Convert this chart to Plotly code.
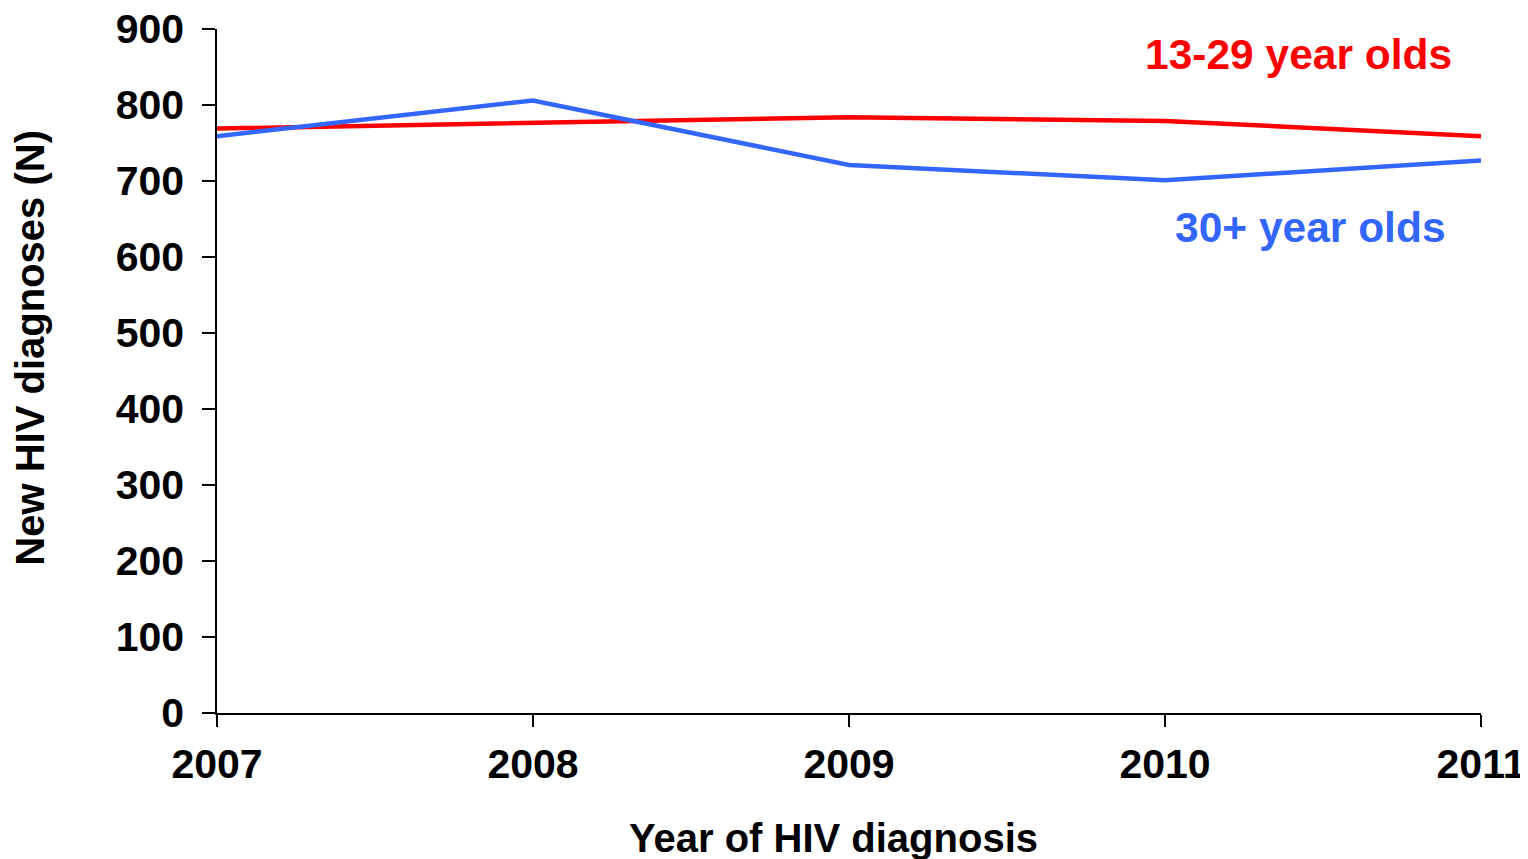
import plotly.graph_objects as go

years = [2007, 2008, 2009, 2010, 2011]
young = [769, 777, 784, 779, 759]
older = [759, 806, 721, 701, 727]
y_ticks = [0, 100, 200, 300, 400, 500, 600, 700, 800, 900]

font = "Liberation Sans, Arial, sans-serif"

fig = go.Figure()
fig.add_trace(go.Scatter(x=years, y=young, mode="lines", name="13-29 year olds",
                         line=dict(color="#FF0000", width=4.5)))
fig.add_trace(go.Scatter(x=years, y=older, mode="lines", name="30+ year olds",
                         line=dict(color="#3366FF", width=4.5)))

fig.add_annotation(x=2010.424, y=866, text="<b>13-29 year olds</b>", showarrow=False,
                   font=dict(family=font, size=42.5, color="#FF0000"))
fig.add_annotation(x=2010.459, y=639, text="<b>30+ year olds</b>", showarrow=False,
                   font=dict(family=font, size=42.5, color="#3366FF"))

# axis titles as annotations (offset from centre as in the reference)
fig.add_annotation(xref="paper", yref="paper", x=0.488, y=-0.183,
                   text="<b>Year of HIV diagnosis</b>", showarrow=False,
                   xanchor="center", yanchor="middle",
                   font=dict(family=font, size=40, color="black"))
fig.add_annotation(xref="paper", yref="paper", x=-0.148, y=0.534,
                   text="<b>New HIV diagnoses (N)</b>", showarrow=False, textangle=-90,
                   xanchor="center", yanchor="middle",
                   font=dict(family=font, size=40, color="black"))

fig.update_layout(
    width=1528, height=859,
    margin=dict(l=209, r=55, t=21, b=154),
    paper_bgcolor="white", plot_bgcolor="white",
    showlegend=False,
    font=dict(family=font, color="black"),
)
fig.update_xaxes(
    range=[2007, 2011], tickvals=years, ticktext=[f"<b>{y}</b>" for y in years],
    tickfont=dict(size=41, family=font), ticks="outside", ticklen=12, tickwidth=1.5,
    tickcolor="black", showline=True, linecolor="black", linewidth=1.5,
    showgrid=False, zeroline=False, automargin=False, ticklabelstandoff=2,
    ticklabeloverflow="allow",
)
fig.update_yaxes(
    range=[0, 900], tickvals=y_ticks, ticktext=[f"<b>{v}</b>" for v in y_ticks],
    tickfont=dict(size=41, family=font), ticks="outside", ticklen=13, tickwidth=1.5,
    tickcolor="black", showline=True, linecolor="black", linewidth=1.5,
    showgrid=False, zeroline=False, automargin=False, ticklabelstandoff=10,
    ticklabeloverflow="allow",
)

fig.write_html("out.html")
